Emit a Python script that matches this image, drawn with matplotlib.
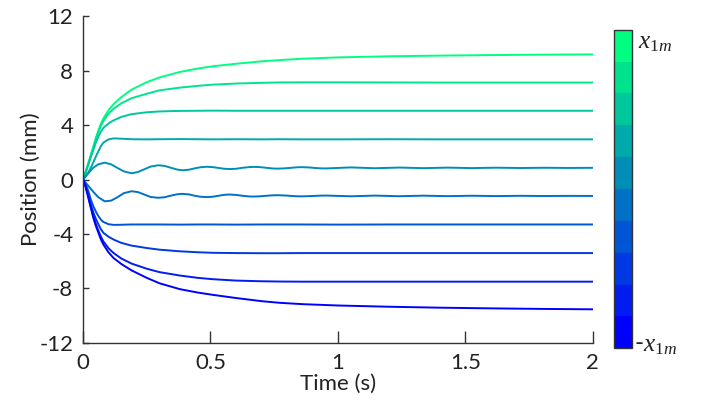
import numpy as np
import matplotlib
matplotlib.use('Agg')
import matplotlib.pyplot as plt
from matplotlib.colors import ListedColormap, BoundaryNorm
from matplotlib.colorbar import ColorbarBase

plt.rcParams['font.family'] = ['Lato', 'DejaVu Sans']
plt.rcParams['mathtext.fontset'] = 'custom'
plt.rcParams['mathtext.it'] = 'Liberation Serif:italic'
plt.rcParams['mathtext.rm'] = 'Liberation Serif'

# time grid for the smooth responses
t_s = [0, 0.01, 0.02, 0.03, 0.04, 0.05, 0.06, 0.07, 0.08, 0.1, 0.12, 0.15, 0.19, 0.25,
       0.3, 0.38, 0.45, 0.51, 0.6, 0.7, 0.77, 0.86, 1.0, 1.2, 1.4, 1.6, 1.8, 2.0]

# time grid for the two oscillating responses
t_o = [0, 0.02, 0.04, 0.06, 0.085, 0.11, 0.135, 0.16, 0.19, 0.215, 0.24, 0.265, 0.295,
       0.32, 0.345, 0.37, 0.39, 0.415, 0.44, 0.46, 0.485, 0.51, 0.535, 0.555, 0.575,
       0.6, 0.625, 0.65, 0.67, 0.695, 0.72, 0.745, 0.765, 0.79, 0.815, 0.84, 0.86,
       0.885, 0.91, 0.935, 0.955, 1.05, 1.145, 1.24, 1.335, 1.43, 1.525, 1.62, 1.715,
       1.81, 1.905, 2.0]

# position (mm), top curve first
pos1 = [0, 0.55, 1.15, 1.75, 2.4, 3.05, 3.6, 4.1, 4.5, 5.1, 5.55, 6.05, 6.6, 7.15,
        7.5, 7.9, 8.15, 8.32, 8.5, 8.68, 8.77, 8.87, 8.97, 9.05, 9.1, 9.14, 9.17, 9.19]
pos2 = [0, 0.55, 1.15, 1.75, 2.35, 2.95, 3.5, 3.95, 4.3, 4.85, 5.2, 5.6, 5.97, 6.3,
        6.55, 6.75, 6.88, 6.97, 7.05, 7.1, 7.13, 7.14, 7.14, 7.13, 7.12, 7.12, 7.12, 7.12]
pos3 = [0, 0.5, 1.05, 1.62, 2.15, 2.7, 3.15, 3.52, 3.8, 4.12, 4.35, 4.6, 4.8, 4.94,
        5.0, 5.04, 5.05, 5.06, 5.05, 5.05, 5.05, 5.05, 5.05, 5.05, 5.05, 5.05, 5.05, 5.05]
pos4 = [0, 0.25, 0.52, 0.85, 1.25, 1.68, 2.08, 2.45, 2.72, 2.95, 3.02, 3.0, 2.96, 2.95,
        2.96, 2.97, 2.96, 2.95, 2.96, 2.95, 2.96, 2.95, 2.95, 2.96, 2.95, 2.95, 2.95, 2.95]
pos5 = [0, 0.45, 0.87, 1.12, 1.24, 1.12, 0.85, 0.6, 0.46, 0.55, 0.75, 0.95, 1.05,
        1.0, 0.86, 0.73, 0.68, 0.72, 0.83, 0.9, 0.94, 0.91, 0.84, 0.79, 0.77,
        0.79, 0.86, 0.91, 0.93, 0.91, 0.86, 0.81, 0.8, 0.82, 0.86, 0.9, 0.91,
        0.89, 0.85, 0.82, 0.815, 0.89, 0.83, 0.88, 0.835, 0.875, 0.84, 0.87, 0.845,
        0.865, 0.85, 0.86]
pos6 = [0, -0.45, -0.9, -1.3, -1.6, -1.55, -1.3, -1.0, -0.86, -0.92, -1.1, -1.28, -1.34,
        -1.3, -1.18, -1.08, -1.05, -1.09, -1.2, -1.26, -1.29, -1.26, -1.18, -1.12, -1.1,
        -1.13, -1.19, -1.24, -1.25, -1.23, -1.19, -1.16, -1.15, -1.17, -1.2, -1.23, -1.235,
        -1.22, -1.2, -1.18, -1.175, -1.23, -1.18, -1.225, -1.185, -1.22, -1.19, -1.215, -1.195,
        -1.21, -1.2, -1.205]
pos7 = [0, -0.35, -0.8, -1.45, -1.95, -2.35, -2.68, -2.95, -3.12, -3.28, -3.33, -3.32, -3.3, -3.3,
        -3.3, -3.31, -3.3, -3.3, -3.31, -3.3, -3.3, -3.3, -3.31, -3.3, -3.3, -3.3, -3.3, -3.3]
pos8 = [0, -0.45, -1.1, -1.8, -2.4, -2.88, -3.28, -3.65, -3.92, -4.2, -4.41, -4.65, -4.85, -5.03,
        -5.15, -5.27, -5.34, -5.38, -5.4, -5.41, -5.41, -5.4, -5.4, -5.4, -5.4, -5.4, -5.4, -5.4]
pos9 = [0, -0.5, -1.2, -1.95, -2.65, -3.25, -3.75, -4.2, -4.55, -5.05, -5.4, -5.8, -6.17, -6.55,
        -6.8, -7.05, -7.22, -7.32, -7.42, -7.47, -7.49, -7.5, -7.5, -7.5, -7.5, -7.5, -7.5, -7.5]
pos10 = [0, -0.55, -1.3, -2.05, -2.8, -3.4, -3.9, -4.4, -4.78, -5.35, -5.77, -6.2, -6.67, -7.22,
         -7.62, -8.05, -8.3, -8.47, -8.7, -8.93, -9.05, -9.15, -9.25, -9.34, -9.41, -9.46, -9.5, -9.53]

curves = [(t_s, pos1), (t_s, pos2), (t_s, pos3), (t_s, pos4), (t_o, pos5),
          (t_o, pos6), (t_s, pos7), (t_s, pos8), (t_s, pos9), (t_s, pos10)]

xticks = [0, 0.5, 1, 1.5, 2]
xticklabels = ['0', '0.5', '1', '1.5', '2']
yticks = [-12, -8, -4, 0, 4, 8, 12]

# MATLAB "winter": blue (bottom) -> green (top)
n = len(curves)
winter = plt.get_cmap('winter')
colors = [winter(k / (n - 1)) for k in range(n)]   # bottom to top

fig = plt.figure(figsize=(7.04, 4.03), dpi=100)
ax = fig.add_axes([0.118, 0.149, 0.724, 0.811])

for i, (t, p) in enumerate(curves):
    ax.plot(t, p, color=colors[n - 1 - i], lw=1.4)

ax.set_xlim(0, 2)
ax.set_ylim(-12, 12)
ax.set_xticks(xticks)
ax.set_xticklabels(xticklabels)
ax.set_yticks(yticks)
ax.set_yticklabels([str(v) for v in yticks])
ax.spines['top'].set_visible(False)
ax.spines['right'].set_visible(False)
for s in ['left', 'bottom']:
    ax.spines[s].set_color('#333333')
    ax.spines[s].set_linewidth(1.0)
ax.tick_params(axis='x', direction='in', length=9, width=1.0, color='#333333',
               labelsize=16, pad=7, labelcolor='#222222')
ax.tick_params(axis='y', direction='in', length=4.5, width=1.0, color='#333333',
               labelsize=16, pad=7, labelcolor='#222222')
ax.set_xlabel('Time (s)', fontsize=16, labelpad=1, color='#222222')
ax.set_ylabel('Position (mm)', fontsize=16, labelpad=-1, color='#222222')

# discrete colour bar
cax = fig.add_axes([0.872, 0.136, 0.026, 0.79])
cmap = ListedColormap(colors)
norm = BoundaryNorm(np.arange(n + 1), n)
cb = ColorbarBase(cax, cmap=cmap, norm=norm, orientation='vertical')
cb.set_ticks([])
cb.ax.minorticks_off()
cb.ax.tick_params(which='both', length=0)
cb.outline.set_edgecolor('#333333')
cb.outline.set_linewidth(1.0)
fig.text(0.906, 0.895, r'$x_{\mathit{1m}}$', fontsize=18, va='center', ha='left', color='#222222')
fig.text(0.900, 0.143, r'-$x_{\mathit{1m}}$', fontsize=18, va='center', ha='left', color='#222222')

fig.savefig('out.png', dpi=100)
